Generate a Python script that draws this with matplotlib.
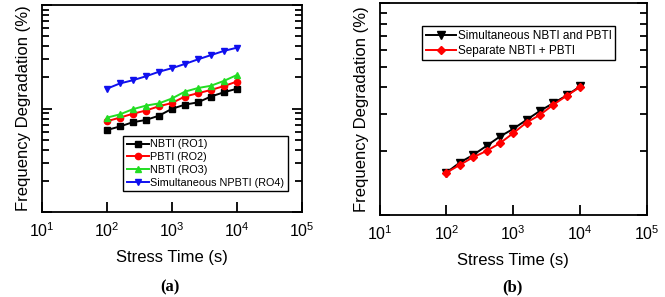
import matplotlib
matplotlib.use('Agg')
import matplotlib.pyplot as plt
from matplotlib.ticker import LogLocator, NullFormatter

plt.rcParams['font.family'] = ['Liberation Sans', 'DejaVu Sans']
plt.rcParams['mathtext.default'] = 'regular'

t = [100, 158, 251, 398, 631, 1000, 1585, 2512, 3981, 6310, 10000]

# panel (a)
ro1 = [0.62, 0.671, 0.738, 0.776, 0.853, 0.993, 1.091, 1.148, 1.307, 1.436, 1.555]
ro2 = [0.754, 0.817, 0.891, 0.957, 1.052, 1.131, 1.307, 1.406, 1.511, 1.648, 1.824]
ro3 = [0.817, 0.878, 0.986, 1.067, 1.122, 1.251, 1.457, 1.578, 1.66, 1.85, 2.108]
ro4 = [1.555, 1.747, 1.878, 2.049, 2.267, 2.453, 2.697, 2.986, 3.281, 3.604, 3.873]

# panel (b)
simul = [1.585, 1.767, 1.92, 2.118, 2.344, 2.548, 2.811, 3.098, 3.369, 3.663, 4.04]
separ = [1.585, 1.722, 1.873, 2.005, 2.181, 2.432, 2.731, 2.966, 3.311, 3.65, 4.011]

fig = plt.figure(figsize=(6.65, 2.97), dpi=100)
ax1 = fig.add_axes([0.063, 0.286, 0.391, 0.697])
ax2 = fig.add_axes([0.571, 0.276, 0.4015, 0.714])

ax1.plot(t, ro1, color='black', marker='s', ms=4.5, lw=1.4, label='NBTI (RO1)')
ax1.plot(t, ro2, color='red', marker='o', ms=4.5, lw=1.4, label='PBTI (RO2)')
ax1.plot(t, ro3, color='#22dd22', marker='^', ms=5, lw=1.4, label='NBTI (RO3)')
ax1.plot(t, ro4, color='#1010ee', marker='v', ms=5, lw=1.4, label='Simultaneous NPBTI (RO4)')
ax1.set_ylim(0.1, 10)

ax2.plot(t, simul, color='black', marker='v', ms=5.5, lw=1.4, label='Simultaneous NBTI and PBTI')
ax2.plot(t, separ, color='red', marker='D', ms=4.5, lw=1.4, label='Separate NBTI + PBTI')
ax2.set_ylim(1, 10)

for ax in (ax1, ax2):
    ax.set_xscale('log')
    ax.set_yscale('log')
    ax.set_xlim(10, 1e5)
    ax.xaxis.set_major_locator(LogLocator(base=10, numticks=10))
    ax.xaxis.set_minor_locator(plt.NullLocator())
    ax.yaxis.set_minor_locator(LogLocator(base=10, subs=range(2, 10), numticks=10))
    ax.yaxis.set_major_formatter(NullFormatter())
    ax.yaxis.set_minor_formatter(NullFormatter())
    ax.tick_params(which='both', direction='in', left=True, right=True, width=1.3, labelsize=11.5)
    ax.tick_params(which='major', length=7)
    ax.tick_params(which='minor', length=5)
    ax.tick_params(axis='x', pad=7)
    for s in ax.spines.values():
        s.set_linewidth(1.3)
    ax.set_xlabel('Stress Time (s)', fontsize=12, labelpad=7)
    ax.set_ylabel('Frequency Degradation (%)', fontsize=12, labelpad=4)

ax1.legend(loc='lower right', bbox_to_anchor=(0.945, 0.10), fontsize=7.8, fancybox=False,
           edgecolor='black', framealpha=1, handlelength=2.0, handletextpad=0.1,
           borderpad=0.35, labelspacing=0.25, borderaxespad=0)
ax2.legend(loc='upper center', bbox_to_anchor=(0.52, 0.89), fontsize=8.5, fancybox=False,
           edgecolor='black', framealpha=1, handlelength=2.6, handletextpad=0.1,
           borderpad=0.3, labelspacing=0.25, borderaxespad=0)

fig.text(0.255, 0.02, '(a)', ha='center', fontsize=12, fontweight='bold', family='Liberation Serif')
fig.text(0.77, 0.02, '(b)', ha='center', fontsize=12, fontweight='bold', family='Liberation Serif')

fig.savefig('out.png', dpi=100)
